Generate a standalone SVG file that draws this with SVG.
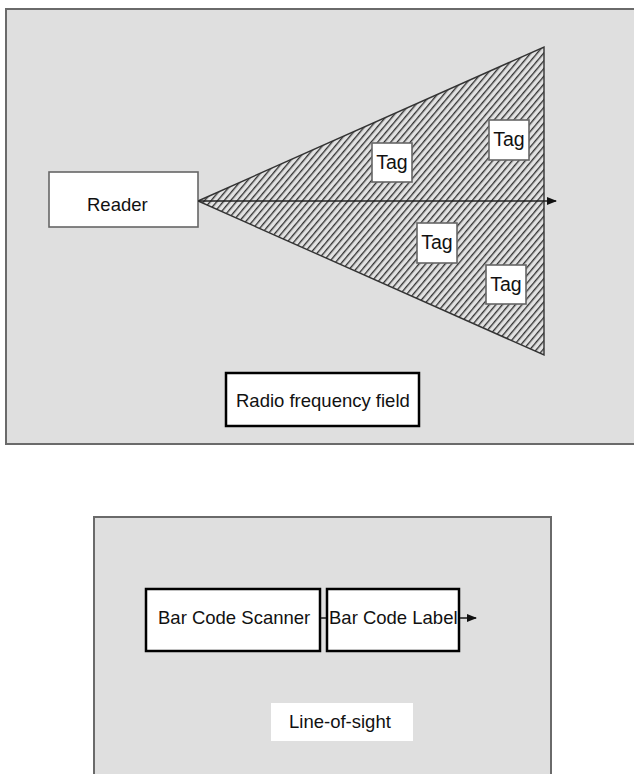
<svg xmlns="http://www.w3.org/2000/svg" width="634" height="774" viewBox="0 0 634 774">
<defs>
<pattern id="hatch" width="5" height="5" patternUnits="userSpaceOnUse" patternTransform="rotate(40)">
<rect width="5" height="5" fill="#e2e2e2"/>
<line x1="0.7" y1="0" x2="0.7" y2="5" stroke="#2a2a2a" stroke-width="1.3"/>
</pattern>
<marker id="arr" markerWidth="10" markerHeight="8" refX="9" refY="4" orient="auto" markerUnits="userSpaceOnUse">
<path d="M0,0 L10,4 L0,8 Z" fill="#111"/>
</marker>
</defs>
<style>
.panel{fill:#dfdfdf;stroke:#6a6a6a;stroke-width:2}
.gbox{fill:#fff;stroke:#666;stroke-width:1.6}
.kbox{fill:#fff;stroke:#000;stroke-width:2.5}
.t{font-family:"Liberation Sans",Arial,sans-serif;fill:#111;font-size:18.5px}
.tag{font-family:"Liberation Sans",Arial,sans-serif;fill:#111;font-size:19.5px;text-anchor:middle}
.conn{stroke:#222;stroke-width:1.6;fill:none}
</style>
<rect width="634" height="774" fill="#fff"/>
<g id="rf-panel">
<rect class="panel" x="6" y="9" width="640" height="435"/>
</g>
<g id="rf-field">
<polygon points="198,201 544,47 544,355" fill="url(#hatch)" stroke="#333" stroke-width="1.4"/>
</g>
<g id="reader">
<rect class="gbox" x="49" y="172" width="149" height="55"/>
<text class="t" x="87" y="211">Reader</text>
</g>
<g id="tag1">
<rect class="gbox" x="372" y="143" width="40" height="39"/>
<text class="tag" x="392" y="169">Tag</text>
</g>
<g id="tag2">
<rect class="gbox" x="489" y="120" width="40" height="40"/>
<text class="tag" x="509" y="146">Tag</text>
</g>
<g id="tag3">
<rect class="gbox" x="417" y="223" width="40" height="40"/>
<text class="tag" x="437" y="249">Tag</text>
</g>
<g id="tag4">
<rect class="gbox" x="486" y="265" width="40" height="39"/>
<text class="tag" x="506" y="291">Tag</text>
</g>
<g id="rf-label">
<rect class="kbox" x="226" y="373" width="193" height="53"/>
<text class="t" x="236" y="407">Radio frequency field</text>
</g>
<g id="los-panel">
<rect class="panel" x="94" y="517" width="457" height="280"/>
</g>
<g id="scanner">
<rect class="kbox" x="146" y="589" width="174" height="62"/>
<text class="t" x="158" y="624">Bar Code Scanner</text>
</g>
<g id="label">
<rect class="kbox" x="327" y="589" width="132" height="62"/>
<text class="t" x="329" y="624">Bar Code Label</text>
</g>
<g id="los-label">
<rect x="271" y="703" width="142" height="38" fill="#fff"/>
<text class="t" x="289" y="728">Line-of-sight</text>
</g>
<g id="connectors">
<line class="conn" x1="198" y1="201" x2="556" y2="201" marker-end="url(#arr)"/>
<line class="conn" x1="321" y1="618" x2="326" y2="618"/>
<line class="conn" x1="460" y1="618" x2="476" y2="618" marker-end="url(#arr)"/>
</g>
</svg>
